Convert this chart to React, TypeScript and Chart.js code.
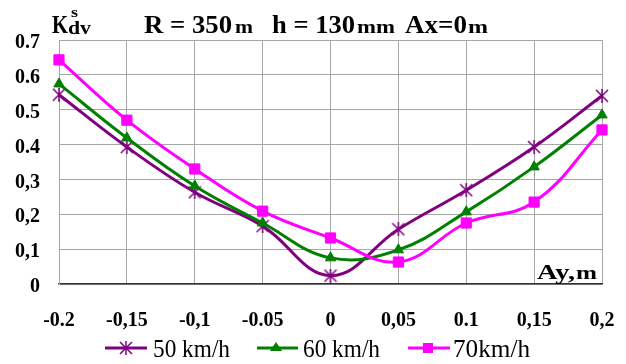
import React, { useEffect, useRef } from "react";
import { Chart, registerables } from "chart.js";

Chart.register(...registerables);

const categories = ["-0.2", "-0,15", "-0,1", "-0.05", "0", "0,05", "0.1", "0,15", "0,2"];
const series50 = [0.543, 0.393, 0.263, 0.166, 0.024, 0.157, 0.269, 0.393, 0.540];
const series60 = [0.574, 0.419, 0.281, 0.175, 0.075, 0.098, 0.207, 0.336, 0.485];
const series70 = [0.643, 0.470, 0.330, 0.209, 0.132, 0.063, 0.175, 0.235, 0.442];
const yTickLabels = ["0", "0,1", "0,2", "0,3", "0.4", "0.5", "0.6", "0.7"];
const seriesNames = ["50 km/h", "60 km/h", "70km/h"];

const PURPLE = "#800080";
const GREEN = "#008000";
const MAGENTA = "#FF00FF";
const SERIF = "'Liberation Serif', 'Times New Roman', serif";

function makeStar(color: string): HTMLCanvasElement {
  const c = document.createElement("canvas");
  c.width = 14;
  c.height = 14;
  const g = c.getContext("2d")!;
  g.strokeStyle = color;
  g.lineWidth = 1.5;
  g.beginPath();
  g.moveTo(7, 0);
  g.lineTo(7, 14);
  g.moveTo(1, 1);
  g.lineTo(13, 13);
  g.moveTo(13, 1);
  g.lineTo(1, 13);
  g.stroke();
  return c;
}

function fitText(ctx: CanvasRenderingContext2D, text: string, x: number, y: number, font: string, width?: number) {
  ctx.save();
  ctx.font = font;
  ctx.textBaseline = "alphabetic";
  ctx.textAlign = "left";
  ctx.fillStyle = "#000";
  const w = ctx.measureText(text).width;
  const s = width ? width / w : 1;
  ctx.translate(x, y);
  ctx.scale(s, 1);
  ctx.fillText(text, 0, 0);
  ctx.restore();
}

export default function App() {
  const ref = useRef<HTMLCanvasElement | null>(null);

  useEffect(() => {
    const canvas = ref.current;
    if (!canvas) return;
    const star = makeStar(PURPLE);

    const overlay = {
      id: "overlay",
      afterDraw(chart: any) {
        const ctx: CanvasRenderingContext2D = chart.ctx;
        // Title
        fitText(ctx, "K", 52, 33, `bold 25px ${SERIF}`, 16);
        fitText(ctx, "dv", 68, 34, `bold 18px ${SERIF}`, 23);
        fitText(ctx, "s", 71, 17, `bold 14px ${SERIF}`, 7);
        fitText(ctx, "R = 350", 144, 33, `bold 25px ${SERIF}`, 88);
        fitText(ctx, "m", 235, 33, `bold 19px ${SERIF}`, 18);
        fitText(ctx, "h = 130", 272, 33, `bold 25px ${SERIF}`, 83);
        fitText(ctx, "mm", 357, 33, `bold 19px ${SERIF}`, 38);
        fitText(ctx, "Ax=0", 405, 33, `bold 25px ${SERIF}`, 62);
        fitText(ctx, "m", 468, 33, `bold 19px ${SERIF}`, 20);
        // axis label
        fitText(ctx, "Ay,", 537, 279, `bold 22px ${SERIF}`, 38);
        fitText(ctx, "m", 576, 279, `bold 19px ${SERIF}`, 21);

        // Legend
        const items = [
          { color: PURPLE, x1: 105, x2: 147, mx: 126, tx: 153, tw: 77, kind: "star" },
          { color: GREEN, x1: 257, x2: 298, mx: 276, tx: 303, tw: 77, kind: "tri" },
          { color: MAGENTA, x1: 408, x2: 450, mx: 428, tx: 453, tw: 77, kind: "rect" },
        ];
        const ly = 348;
        items.forEach((it, i) => {
          ctx.save();
          ctx.strokeStyle = it.color;
          ctx.lineWidth = 3;
          ctx.beginPath();
          ctx.moveTo(it.x1, ly);
          ctx.lineTo(it.x2, ly);
          ctx.stroke();
          ctx.fillStyle = it.color;
          if (it.kind === "star") {
            ctx.drawImage(star, it.mx - 7, ly - 7);
          } else if (it.kind === "tri") {
            ctx.beginPath();
            ctx.moveTo(it.mx, ly - 6);
            ctx.lineTo(it.mx + 6, ly + 3);
            ctx.lineTo(it.mx - 6, ly + 3);
            ctx.closePath();
            ctx.fill();
          } else {
            ctx.fillRect(it.mx - 5, ly - 5, 10, 10);
          }
          ctx.restore();
          fitText(ctx, seriesNames[i], it.tx, 357, `25px ${SERIF}`, it.tw);
        });
      },
    };

    const chart = new Chart(canvas, {
      type: "line",
      data: {
        labels: categories,
        datasets: [
          {
            label: seriesNames[0],
            data: series50,
            borderColor: PURPLE,
            backgroundColor: PURPLE,
            borderWidth: 3,
            pointStyle: star as any,
            pointRadius: 7,
            tension: 0.4,
            clip: false as any,
            order: 2,
          },
          {
            label: seriesNames[1],
            data: series60,
            borderColor: GREEN,
            backgroundColor: GREEN,
            borderWidth: 3,
            pointStyle: "triangle",
            pointRadius: 6,
            pointBorderWidth: 1,
            tension: 0.4,
            clip: false as any,
            order: 1,
          },
          {
            label: seriesNames[2],
            data: series70,
            borderColor: MAGENTA,
            backgroundColor: MAGENTA,
            borderWidth: 3,
            pointStyle: "rect",
            pointRadius: 7.2,
            pointBorderWidth: 1,
            tension: 0.4,
            clip: false as any,
            order: 0,
          },
        ],
      },
      options: {
        responsive: false,
        animation: false,
        layout: { padding: { top: 40, right: 24, left: 0, bottom: 0 } },
        plugins: {
          legend: { display: false },
          title: { display: false },
          tooltip: { enabled: false },
        },
        scales: {
          x: {
            type: "category",
            offset: false,
            grid: { color: "#a6a6a6", lineWidth: 1, drawTicks: false },
            border: { display: true, color: "#333333", width: 1.5 },
            ticks: {
              color: "#000",
              font: { family: SERIF, size: 20, weight: "bold" },
              padding: 25,
              maxRotation: 0,
              autoSkip: false,
            },
            afterFit: (scale: any) => {
              scale.height = 80;
              scale.paddingLeft = 0;
              scale.paddingRight = 0;
            },
          },
          y: {
            min: 0,
            max: 0.7,
            grid: { color: "#a6a6a6", lineWidth: 1, drawTicks: false },
            border: { display: true, color: "#a6a6a6", width: 1 },
            ticks: {
              stepSize: 0.1,
              color: "#000",
              font: { family: SERIF, size: 20, weight: "bold" },
              padding: 19,
              labelOffset: 3,
              callback: (v: any) => yTickLabels[Math.round(Number(v) * 10)],
            },
            afterFit: (scale: any) => {
              scale.width = 59;
              scale.paddingTop = 0;
              scale.paddingBottom = 0;
            },
          },
        },
      },
      plugins: [overlay],
    });

    return () => {
      chart.destroy();
    };
  }, []);

  return (
    <div style={{ position: "fixed", left: 0, top: 0, width: 626, height: 364, background: "#fff" }}>
      <canvas ref={ref} width={626} height={364} style={{ width: 626, height: 364, display: "block" }} />
    </div>
  );
}
